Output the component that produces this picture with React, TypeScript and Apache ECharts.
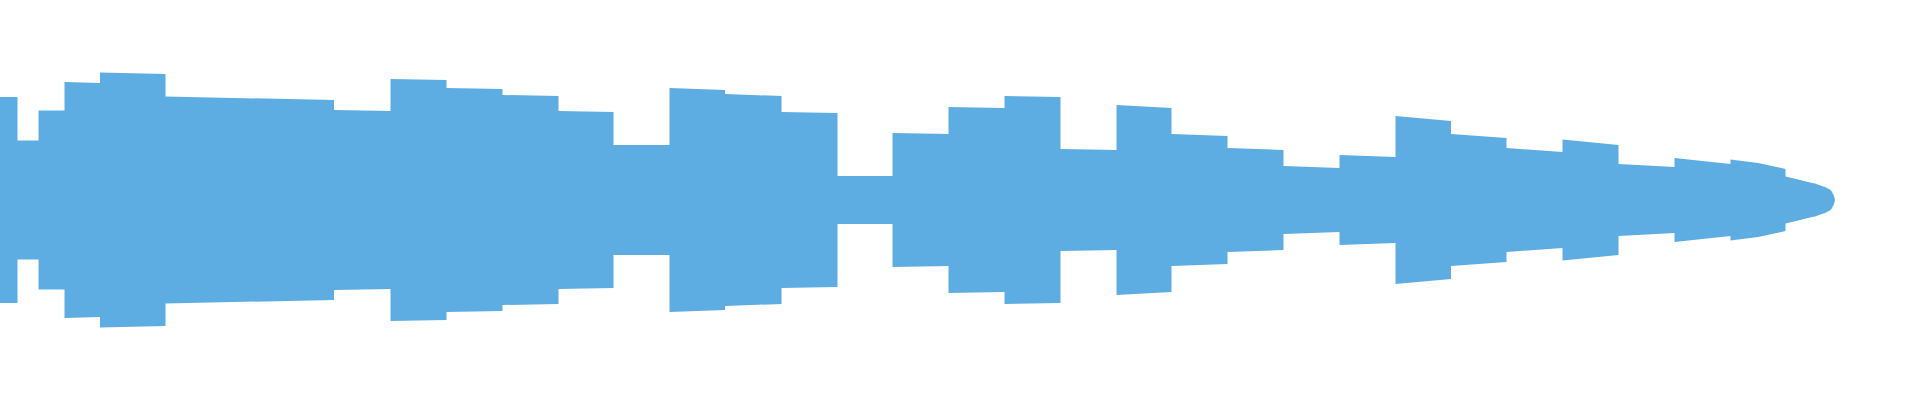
import React, { useEffect, useRef } from "react";
import * as echarts from "echarts";

// Envelope of the waveform: each chunk starts/ends at a time position with a (half) amplitude level
const segmentStart = [0, 17.5, 38.5, 64.5, 100, 165.5, 334, 390.5, 446.5, 502.5, 558.5, 613.5, 669.5, 725, 781.5, 837.5, 892.5, 948.5, 1004.5, 1060.5, 1116.5, 1171.5, 1227.5, 1283.5, 1339.5, 1395.5, 1451, 1506.5, 1562.5, 1618.5, 1674.5, 1730.5];
const segmentEnd = [17.5, 38.5, 64.5, 100, 165.5, 334, 390.5, 446.5, 502.5, 558.5, 613.5, 669.5, 725, 781.5, 837.5, 892.5, 948.5, 1004.5, 1060.5, 1116.5, 1171.5, 1227.5, 1283.5, 1339.5, 1395.5, 1451, 1506.5, 1562.5, 1618.5, 1674.5, 1730.5, 1758];
const levelStart = [103, 59.5, 89.5, 118, 127.5, 103.5, 90, 121, 112, 105, 89, 55, 112, 106, 88, 24, 67, 93, 104, 51, 95, 66, 52, 34, 45, 84, 66, 52, 60.5, 36, 42, 40.5];
const levelEnd = [103, 59.5, 89.5, 117, 126, 100, 89, 120, 111, 104, 88, 55, 110, 104, 87, 24, 66, 92, 103, 50, 92, 64, 50, 32, 43, 79, 62, 48, 55, 33, 36, 37];

// Fade-out at the end of the waveform
const tailX = [1785.5, 1785.5, 1794, 1802, 1810, 1815, 1819, 1822, 1825, 1827, 1829, 1831, 1832, 1833, 1834, 1835];
const tailLevel = [31, 23.5, 21.5, 19.5, 17.5, 16.5, 15, 14, 13, 12, 11, 9.5, 8, 6, 4, 0];

const COLOR = "#5dade2";

export default function App() {
  const ref = useRef<HTMLDivElement>(null);

  useEffect(() => {
    if (!ref.current) return;
    const chart = echarts.init(ref.current, undefined, { renderer: "svg" });
    const upper: [number, number][] = [];
    segmentStart.forEach((x0, i) => {
      upper.push([x0, levelStart[i]]);
      upper.push([segmentEnd[i], levelEnd[i]]);
    });
    tailX.forEach((x, i) => upper.push([x, tailLevel[i]]));
    const lower = upper.map(([x, v]) => [x, -v]);

    const base = {
      type: "line" as const,
      symbol: "none",
      silent: true,
      lineStyle: { width: 0, opacity: 0 },
      areaStyle: { color: COLOR, opacity: 1 },
    };

    chart.setOption({
      animation: false,
      grid: { left: 0, right: 0, top: 0, bottom: 0 },
      xAxis: { type: "value", min: 0, max: 1920, show: false },
      yAxis: { type: "value", min: -200, max: 200, show: false },
      series: [
        { ...base, name: "upper", data: upper },
        { ...base, name: "lower", data: lower },
      ],
    });
    return () => chart.dispose();
  }, []);

  return (
    <div
      ref={ref}
      style={{ position: "fixed", left: 0, top: 0, width: 1920, height: 400, background: "#fff" }}
    />
  );
}
